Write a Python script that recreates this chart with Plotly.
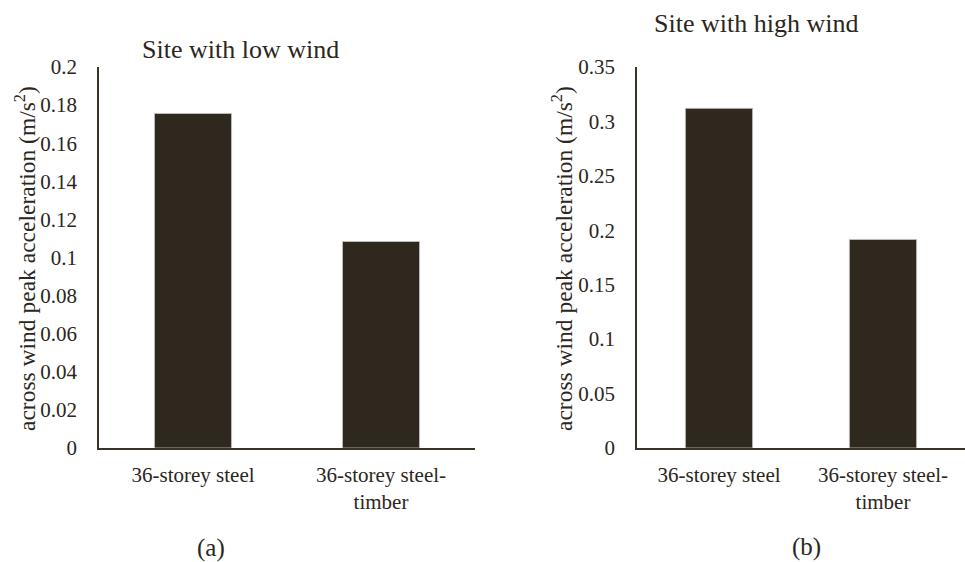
import plotly.graph_objects as go

categories = ["36-storey steel", "36-storey steel-<br>timber"]
low_wind = [0.1756, 0.1084]
high_wind = [0.312, 0.1916]
low_ticks = [0, 0.02, 0.04, 0.06, 0.08, 0.1, 0.12, 0.14, 0.16, 0.18, 0.2]
high_ticks = [0, 0.05, 0.1, 0.15, 0.2, 0.25, 0.3, 0.35]

W, H = 965, 562
BAR = "#2e281e"
AXIS = "#3a3428"
TXT = "#2b2620"
FONT = "Liberation Serif, Times New Roman, serif"

fig = go.Figure()
fig.add_trace(go.Bar(x=categories, y=low_wind, width=0.41, xaxis="x", yaxis="y",
                     marker=dict(color=BAR, line=dict(color="#c8c8c8", width=0.8)),
                     showlegend=False))
fig.add_trace(go.Bar(x=categories, y=high_wind, width=0.41, xaxis="x2", yaxis="y2",
                     marker=dict(color=BAR, line=dict(color="#c8c8c8", width=0.8)),
                     showlegend=False))

def px(x):
    return x / W

def py(y):
    return 1 - y / H

ydom = [py(448), py(67)]
common_x = dict(showline=True, linecolor=AXIS, linewidth=1.5, ticks="", showgrid=False,
                tickfont=dict(family=FONT, size=21, color=TXT), ticklabelstandoff=7,
                automargin=False, fixedrange=True)
common_y = dict(showline=True, linecolor=AXIS, linewidth=1.5, ticks="", showgrid=False,
                zeroline=False, tickfont=dict(family=FONT, size=21, color=TXT),
                ticklabelstandoff=16, automargin=False)

fig.update_layout(
    template="none",
    width=W, height=H,
    margin=dict(l=0, r=0, t=0, b=0, autoexpand=False),
    paper_bgcolor="white", plot_bgcolor="white",
    xaxis=dict(domain=[px(99), px(475)], anchor="y", **common_x),
    yaxis=dict(domain=ydom, anchor="x", range=[0, 0.2], tickvals=low_ticks,
               ticktext=[("%g" % v) for v in low_ticks], **common_y),
    xaxis2=dict(domain=[px(637), 1.0], anchor="y2", **common_x),
    yaxis2=dict(domain=ydom, anchor="x2", range=[0, 0.35], tickvals=high_ticks,
                ticktext=[("%g" % v) for v in high_ticks], **common_y),
    bargap=0.59,
)

def ann(text, x, y, size, angle=0):
    fig.add_annotation(text=text, x=px(x), y=py(y), xref="paper", yref="paper",
                       xanchor="center", yanchor="middle", showarrow=False,
                       textangle=angle, font=dict(family=FONT, size=size, color=TXT))

ytitle = "across wind peak acceleration (m/s<sup>2</sup>)"
ann("Site with low wind", 240, 49, 26)
ann("Site with high wind", 756, 24, 26)
ann(ytitle, 25, 259, 23.5, -90)
ann(ytitle, 562, 259, 23.5, -90)
ann("(a)", 211, 548, 25)
ann("(b)", 806, 547, 25)

fig.write_html("out.html")
